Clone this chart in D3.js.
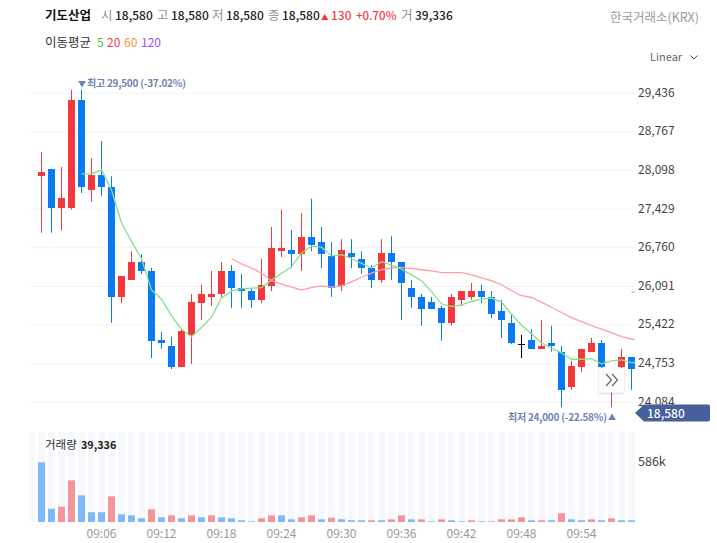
<!DOCTYPE html>
<html>
<head>
<meta charset="utf-8">
<script src="https://cdn.jsdelivr.net/npm/d3@7"></script>
<style>
  html, body { margin: 0; padding: 0; background: #fff; }
  svg { display: block; font-family: "Noto Sans CJK KR", "Noto Sans", sans-serif; }
  .axis .domain, .axis line { display: none; }
</style>
</head>
<body>
<div id="chart"></div>
<script>
const opens = [28000,28130,27450,27450,29320,27760,28020,27810,25910,26200,26510,26360,25160,25060,24700,25250,25800,25910,25960,26360,
  26060,26010,25860,26100,26700,26720,26650,26950,26860,26620,26100,26670,26570,26410,26200,26670,26510,26060,25910,25820,
  25720,25460,25860,25910,26010,25910,25670,25460,25100,25160,25010,25110,24960,24350,24700,24960,25110,24440,24700,24870];
const highs = [28420,28130,28160,29500,29500,28310,28610,28000,26270,26700,26650,26410,25300,25220,25350,25960,26120,26360,26510,26460,
  26310,26060,26570,27120,27420,27070,27360,27610,27120,26860,26910,26910,26700,26460,26910,26960,26510,26200,25960,25910,
  25750,25960,26010,26150,26120,26010,25860,25610,25250,25350,25510,25410,25060,24800,25010,25200,25160,24660,25010,24870];
const lows = [27020,27020,27060,27420,27710,27560,27660,25460,25800,26200,26310,24850,25010,24660,24700,24750,25510,25750,25910,25720,
  25720,25720,25800,26010,26600,26410,26360,26700,26410,25910,26010,26410,26310,26060,26150,26200,25510,25720,25410,25700,
  25150,25410,25750,25860,25800,25540,25200,25090,24850,25010,25010,24960,24000,24300,24610,24960,24640,24000,24400,24300];
const closes = [28070,27450,27620,29320,27810,28020,27810,25910,26270,26510,26360,25150,25110,24700,25320,25820,25960,25960,26360,26060,
  26010,25860,26120,26760,26760,26650,26950,26810,26650,26060,26720,26600,26410,26200,26670,26510,26150,25910,25700,25700,
  25460,25910,26010,26010,25910,25610,25510,25110,25100,25010,25060,25060,24300,24710,25010,25110,24700,24660,24870,24660];

// moving averages run one step past the last candle and get clipped at the plot edge
const ma5Start = 4;
const ma5 = [28040,28040,28110,27760,27190,26870,26570,26030,25870,25580,25350,25220,25380,25560,25890,26010,26050,26060,26070,26200,
  26320,26430,26670,26790,26770,26620,26640,26570,26490,26410,26520,26460,26390,26290,26190,26000,25790,25740,25770,25830,
  25870,25890,25820,25610,25420,25270,25110,25020,24940,24830,24830,24840,24750,24800,24820,24770,24780];
const ma20Start = 19;
const ma20 = [26570,26480,26410,26320,26190,26130,26080,26030,26070,26100,26080,26100,26170,26250,26320,26380,26410,26420,26400,26380,
  26360,26330,26330,26330,26290,26240,26190,26120,26020,25930,25900,25820,25730,25640,25550,25480,25410,25350,25290,25220,25180,25130];
const ma60Start = 59;
const ma60 = [25990,25980];

const volumes = [583,130,150,407,260,95,95,251,75,65,36,124,46,65,36,65,46,65,46,36,
  17,7,36,65,65,26,46,65,26,42,26,17,17,17,17,26,65,26,26,7,
  26,17,7,17,7,7,26,26,46,17,17,17,85,26,17,26,17,36,17,17];
// 1 = red, 0 = blue volume bar
const volumeUp = [0,0,1,1,0,0,0,1,0,0,0,1,0,1,0,1,0,1,0,0,
  0,0,1,1,0,0,1,1,0,1,0,0,0,1,0,1,1,0,1,0,
  1,0,0,1,0,1,1,1,1,0,1,0,1,0,0,1,0,1,0,0];

const priceTicks = [29436,28767,28098,27429,26760,26091,25422,24753,24084];
const timeTicks = ["09:06","09:12","09:18","09:24","09:30","09:36","09:42","09:48","09:54"];
const timeTickIdx = [6,12,18,24,30,36,42,48,54];
const maLegend = [["5","#35c935"],["20","#f8394a"],["60","#f59332"],["120","#9a4dff"]];

const width = 717, height = 543;
const redColor = "#f2383d", blueColor = "#0a7af0";

const svg = d3.select("#chart").append("svg")
  .attr("width", width)
  .attr("height", height);

const x = d3.scaleLinear().domain([0, 59]).range([41.5, 631.5]);
const y = d3.scaleLinear().domain([24084, 29436]).range([402.3, 93.3]);
const yVol = d3.scaleLinear().domain([0, 586]).range([522, 462]);
const bodyW = 7;

function label(px, py, txt, size, color, weight, anchor) {
  return svg.append("text")
    .attr("x", px).attr("y", py)
    .attr("font-size", size)
    .attr("fill", color)
    .attr("font-weight", weight || 400)
    .attr("text-anchor", anchor || "start")
    .text(txt);
}

// header
const hdrDark = "#222", hdrGray = "#8f8f8f";
label(45, 20, "기도산업", 12.5, "#111", 700);
[["시",101,115],["고",157,171],["저",212,226],["종",268,282]].forEach(d => {
  label(d[1], 20, d[0], 12.5, hdrGray);
  label(d[2], 20, "18,580", 12, hdrDark, 500);
});
label(321, 20, "▲", 7.5, redColor);
label(331, 20, "130", 12, "#f8394a", 500);
label(356, 20, "+0.70%", 11.5, "#f8394a", 500);
label(401, 20, "거", 12.5, hdrGray);
label(415, 20, "39,336", 12, hdrDark, 500);
label(699, 22, "한국거래소(KRX)", 12.5, "#999", 400, "end");
label(45, 47, "이동평균", 12.5, "#333");
[97, 107, 124, 141].forEach((px, i) => label(px, 47, maLegend[i][0], 12, maLegend[i][1]));
label(650, 61, "Linear", 11, "#666");
svg.append("path")
  .attr("d", "M690.5 55.5 L694 59 L697.5 55.5")
  .attr("fill", "none").attr("stroke", "#555");

// gridlines
svg.append("g").selectAll("line")
  .data(priceTicks)
  .join("line")
  .attr("x1", 31).attr("x2", 634)
  .attr("y1", d => y(d)).attr("y2", d => y(d))
  .attr("stroke", "#f2f3f5");

// price axis
const yAxis = svg.append("g")
  .attr("class", "axis")
  .attr("transform", "translate(638,-1)")
  .call(d3.axisRight(y).tickValues(priceTicks).tickSize(0).tickPadding(0).tickFormat(d3.format(",")));
yAxis.selectAll("text")
  .attr("font-size", 12)
  .attr("font-family", "'Noto Sans CJK KR', sans-serif")
  .attr("fill", "#444");

// volume bands and bars
const bandIdx = d3.range(-1, 60);
svg.append("g").selectAll("rect")
  .data(bandIdx)
  .join("rect")
  .attr("x", d => Math.max(x(d) - bodyW / 2, 30))
  .attr("width", d => d < 0 ? 5 : bodyW)
  .attr("y", 432)
  .attr("height", 90)
  .attr("fill", "#f6f8fc");

svg.append("g").selectAll("rect")
  .data(volumes)
  .join("rect")
  .attr("x", (d, i) => x(i) - bodyW / 2)
  .attr("width", bodyW)
  .attr("y", d => yVol(d))
  .attr("height", d => 522 - yVol(d))
  .attr("fill", (d, i) => volumeUp[i] ? "#f4959c" : "#7fb9fa");

// candles
const candles = d3.range(60);
const candleColor = i => closes[i] > opens[i] ? redColor : closes[i] < opens[i] ? blueColor : "#000";

svg.append("g").selectAll("line")
  .data(candles)
  .join("line")
  .attr("x1", x).attr("x2", x)
  .attr("y1", i => y(highs[i]))
  .attr("y2", i => y(lows[i]))
  .attr("stroke", candleColor)
  .attr("stroke-width", 1);

svg.append("g").selectAll("rect")
  .data(candles)
  .join("rect")
  .attr("x", i => x(i) - bodyW / 2)
  .attr("width", bodyW)
  .attr("y", i => Math.round(y(Math.max(opens[i], closes[i]))))
  .attr("height", i => Math.max(1, Math.round(y(Math.min(opens[i], closes[i]))) - Math.round(y(Math.max(opens[i], closes[i])))))
  .attr("fill", candleColor);

// moving averages
svg.append("clipPath").attr("id", "plotClip")
  .append("rect").attr("x", 30).attr("y", 80).attr("width", 605).attr("height", 340);
const line = d3.line().x(d => x(d[0])).y(d => y(d[1]));
const maLines = svg.append("g").attr("clip-path", "url(#plotClip)");
[[ma60, ma60Start, "#f8b27a"], [ma20, ma20Start, "#fb9ea6"], [ma5, ma5Start, "#86e08a"]].forEach(m => {
  maLines.append("path")
    .attr("d", line(m[0].map((v, i) => [i + m[1], v])))
    .attr("fill", "none").attr("stroke", m[2]).attr("stroke-width", 1.3);
});

// high / low labels
const markColor = "#6f83b3";
label(78, 87, "▼", 8, markColor);
label(87, 87, "최고 29,500 (-37.02%)", 10, markColor, 700).attr("letter-spacing", -0.25);
label(508, 421, "최저 24,000 (-22.58%)", 10, markColor, 700).attr("letter-spacing", -0.25);
label(608, 420, "▲", 8, markColor);

// time axis
svg.append("g").selectAll("text")
  .data(timeTicks)
  .join("text")
  .attr("x", (d, i) => x(timeTickIdx[i]))
  .attr("y", 538)
  .attr("text-anchor", "middle")
  .attr("font-size", 12)
  .attr("fill", "#999")
  .text(d => d);

label(45, 449, "거래량", 11.5, "#333");
label(81, 449, "39,336", 10.8, "#222", 700);
label(638, 466, "586k", 12.5, "#444");

// next button
const defs = svg.append("defs");
const shadow = defs.append("filter").attr("id", "btnShadow")
  .attr("x", "-20%").attr("y", "-20%").attr("width", "140%").attr("height", "140%");
shadow.append("feDropShadow")
  .attr("dx", 0).attr("dy", 1).attr("stdDeviation", 1)
  .attr("flood-color", "#000").attr("flood-opacity", 0.2);
svg.append("rect")
  .attr("x", 599).attr("y", 368).attr("width", 25).attr("height", 24.5).attr("rx", 2)
  .attr("fill", "#fbfcfe").attr("filter", "url(#btnShadow)");
svg.append("path")
  .attr("d", "M606 374 L611.5 380 L606 386 M612 374 L617.5 380 L612 386")
  .attr("fill", "none").attr("stroke", "#666").attr("stroke-width", 1.2);

// current price tag
svg.append("path")
  .attr("d", "M635 413 L644 404.5 L708 404.5 Q710 404.5 710 406.5 L710 419.5 Q710 421.5 708 421.5 L644 421.5 Z")
  .attr("fill", "#46609c");
label(647, 418, "18,580", 12, "#fff", 500);
</script>
</body>
</html>
